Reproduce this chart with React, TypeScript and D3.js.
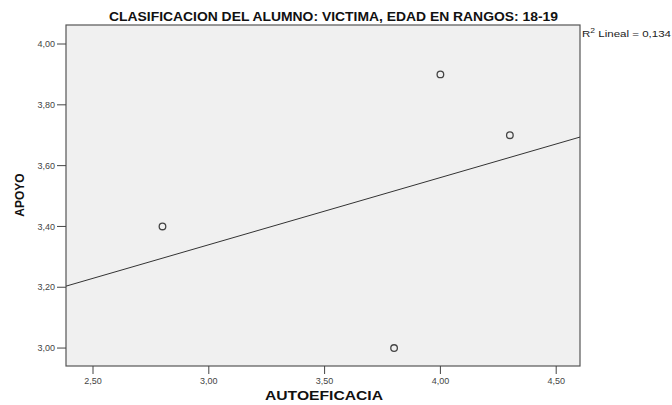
import React from "react";
import * as d3 from "d3";

const autoeficacia = [2.8, 3.8, 4.0, 4.3];
const apoyo = [3.4, 3.0, 3.9, 3.7];
const xTicks = [2.5, 3.0, 3.5, 4.0, 4.5];
const yTicks = [3.0, 3.2, 3.4, 3.6, 3.8, 4.0];
const title = "CLASIFICACION DEL ALUMNO: VICTIMA, EDAD EN RANGOS: 18-19";
const xLabel = "AUTOEFICACIA";
const yLabel = "APOYO";

const W = 672, H = 405;
const left = 66, right = 580, top = 25, bottom = 366;

const fmt = (v: number) => v.toFixed(2).replace(".", ",");

export default function App() {
  const x = d3.scaleLinear().domain([2.3834, 4.6028]).range([left, right]);
  const y = d3.scaleLinear().domain([2.941, 4.0625]).range([bottom, top]);

  const mx = d3.mean(autoeficacia)!;
  const my = d3.mean(apoyo)!;
  let sxy = 0, sxx = 0, syy = 0;
  autoeficacia.forEach((xv, i) => {
    sxy += (xv - mx) * (apoyo[i] - my);
    sxx += (xv - mx) ** 2;
    syy += (apoyo[i] - my) ** 2;
  });
  const slope = sxy / sxx;
  const icpt = my - slope * mx;
  const r2 = (sxy * sxy) / (sxx * syy);
  const [x0, x1] = x.domain();
  const lineGen = d3.line<[number, number]>().x(d => x(d[0])).y(d => y(d[1]));
  const regPath = lineGen([[x0, icpt + slope * x0], [x1, icpt + slope * x1]]);

  const font = "'Liberation Sans', Arial, sans-serif";
  return (
    <svg width={W} height={H} style={{ position: "absolute", left: 0, top: 0, background: "#fff" }} fontFamily={font}>
      <rect x={left} y={top} width={right - left} height={bottom - top} fill="#f0f0f0" stroke="#555" strokeWidth={1.2} />
      <text x={109} y={21} fontSize={12} fontWeight="bold" fill="#111" textLength={449} lengthAdjust="spacingAndGlyphs">{title}</text>
      {yTicks.map(t => (
        <g key={"y" + t}>
          <line x1={left - 9} x2={left} y1={y(t)} y2={y(t)} stroke="#444" />
          <text x={left - 11} y={y(t)} dy="0.35em" textAnchor="end" fontSize={9} fill="#444">{fmt(t)}</text>
        </g>
      ))}
      {xTicks.map(t => (
        <g key={"x" + t}>
          <line x1={x(t)} x2={x(t)} y1={bottom} y2={bottom + 8} stroke="#444" />
          <text x={x(t)} y={bottom + 18} textAnchor="middle" fontSize={9} fill="#444">{fmt(t)}</text>
        </g>
      ))}
      <text x={265} y={400} fontSize={12} fontWeight="bold" fill="#111" textLength={118} lengthAdjust="spacingAndGlyphs">{xLabel}</text>
      <text transform={`translate(24,195) rotate(-90)`} textAnchor="middle" fontSize={12} fontWeight="bold" fill="#111">{yLabel}</text>
      <path d={regPath ?? ""} stroke="#333" strokeWidth={1} fill="none" />
      {autoeficacia.map((xv, i) => (
        <circle key={i} cx={x(xv)} cy={y(apoyo[i])} r={3.3} fill="none" stroke="#444" strokeWidth={1.3} />
      ))}
      <text x={582} y={37} fontSize={9.5} fill="#222" textLength={89} lengthAdjust="spacingAndGlyphs">
        R<tspan dy={-4} fontSize={7}>2</tspan><tspan dy={4}> Lineal = {r2.toFixed(3).replace(".", ",")}</tspan>
      </text>
    </svg>
  );
}
